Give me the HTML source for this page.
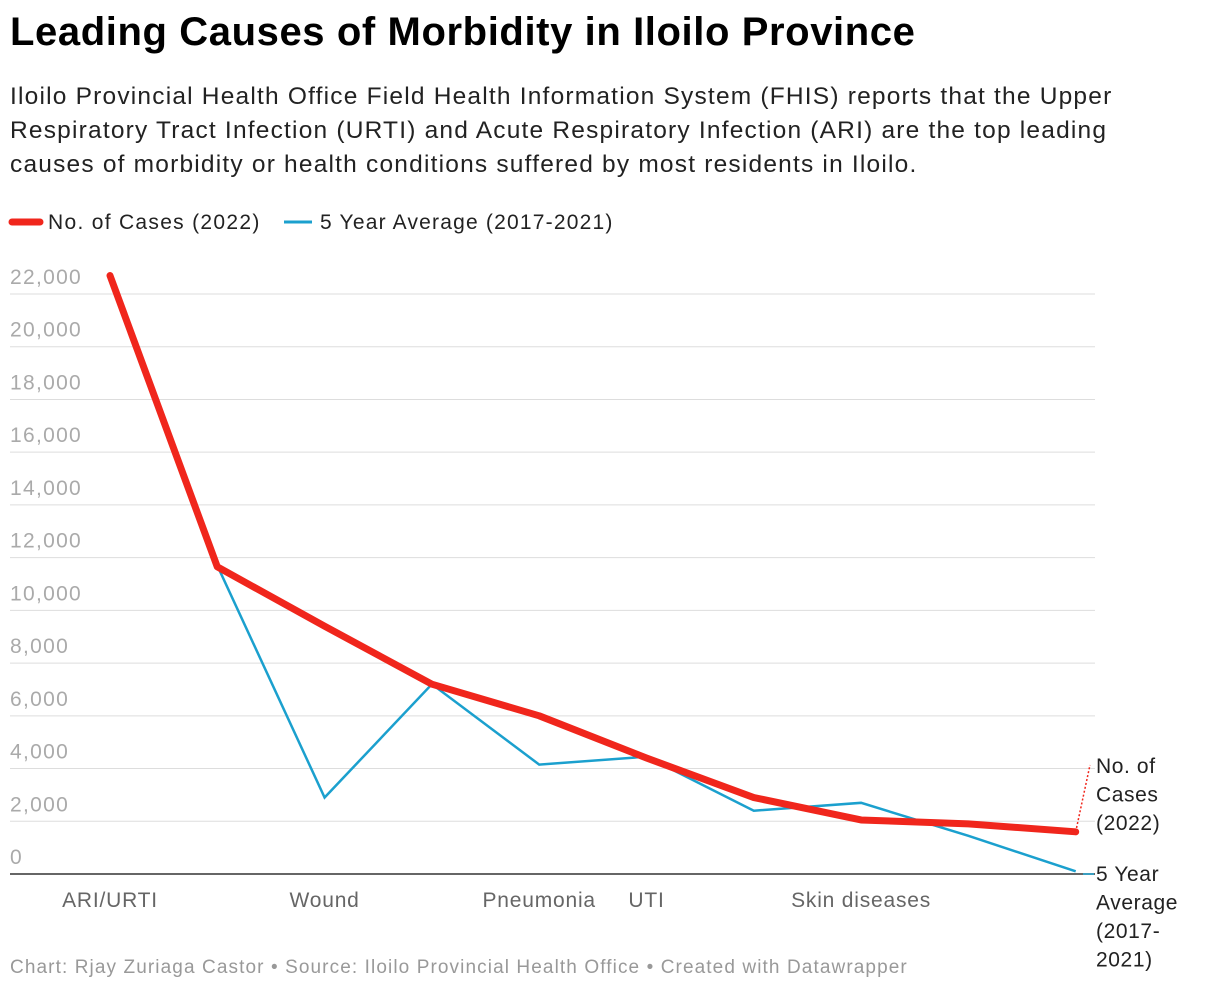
<!DOCTYPE html>
<html><head><meta charset="utf-8"><style>
body{margin:0;background:#fff;font-family:"Liberation Sans",sans-serif;width:1220px;height:990px;overflow:hidden;position:relative}
h1{position:absolute;left:10px;top:10px;margin:0;font-size:40px;font-weight:bold;color:#000;letter-spacing:0.6px}
.sub{position:absolute;left:10px;top:80px;width:1160px;font-size:24.5px;line-height:34px;color:#222;letter-spacing:1.2px}
.foot{position:absolute;left:10px;top:957px;font-size:19px;color:#999;letter-spacing:1.1px}
</style></head><body>
<h1>Leading Causes of Morbidity in Iloilo Province</h1>
<div class="sub">Iloilo Provincial Health Office Field Health Information System (FHIS) reports that the Upper Respiratory Tract Infection (URTI) and Acute Respiratory Infection (ARI) are the top leading causes of morbidity or health conditions suffered by most residents in Iloilo.</div>
<svg id="c" width="1220" height="990" style="position:absolute;left:0;top:0"></svg>
<div class="foot">Chart: Rjay Zuriaga Castor • Source: Iloilo Provincial Health Office • Created with Datawrapper</div>
<script>
const categories=["ARI/URTI","","Wound","","Pneumonia","UTI","","Skin diseases","",""];
const cases2022=[22700,11650,9400,7200,6000,4400,2900,2050,1900,1600];
const avg5yr=[22700,11700,2900,7200,4150,4450,2400,2700,1450,100];
const yTicks=[0,2000,4000,6000,8000,10000,12000,14000,16000,18000,20000,22000];
const NS="http://www.w3.org/2000/svg";
const svg=document.getElementById('c');
const x=i=>110+i*107.3;
const y=v=>874-v*(580/22000);
function mk(t,a,p){const e=document.createElementNS(NS,t);for(const k in a)e.setAttribute(k,a[k]);(p||svg).appendChild(e);return e;}
yTicks.forEach(v=>{
 if(v>0){const l=mk('line',{x1:10,x2:1095,y1:y(v),y2:y(v),stroke:'#ddd','stroke-width':1});
 
 }
 const t=mk('text',{x:10,y:y(v)-10,'font-size':21,fill:'#aaa','font-family':'Liberation Sans','letter-spacing':'1.3'});
 t.textContent=v.toLocaleString('en-US');
 
 
});
const ax=mk('line',{x1:10,x2:1095,y1:874,y2:874,stroke:'#333','stroke-width':1.5});


categories.forEach((c,i)=>{if(!c)return;
 const t=mk('text',{x:x(i),y:907,'font-size':21,fill:'#666','text-anchor':'middle','font-family':'Liberation Sans','letter-spacing':'0.8'});
 t.textContent=c;
 
 });
const pb=mk('polyline',{points:avg5yr.map((v,i)=>x(i)+','+y(v)).join(' '),fill:'none',stroke:'#1ba0ce','stroke-width':2.5});


const pr=mk('polyline',{points:cases2022.map((v,i)=>x(i)+','+y(v)).join(' '),fill:'none',stroke:'#f0261c','stroke-width':7,'stroke-linejoin':'round','stroke-linecap':'round'});


const n=cases2022.length-1;
const d=mk('line',{x1:x(n),y1:y(cases2022[n]),x2:1090,y2:765,stroke:'#f0261c','stroke-width':1.5,'stroke-dasharray':'2,2'});


function lbl(lines,y0,name){lines.forEach((s,k)=>{const t=mk('text',{x:1096,y:y0+k*28.5,'font-size':21,fill:'#222','font-family':'Liberation Sans','letter-spacing':'0.6'});t.textContent=s;
 
 });}
lbl(["No. of","Cases","(2022)"],773,'line-label-2022');
lbl(["5 Year","Average","(2017-","2021)"],881,'line-label-average');
const lg=mk('line',{x1:1083,x2:1094,y1:874,y2:874,stroke:'#1ba0ce','stroke-width':1.5});
const l1=mk('line',{x1:12,x2:40,y1:222,y2:222,stroke:'#f0261c','stroke-width':7,'stroke-linecap':'round'});


const t1=mk('text',{x:48,y:229,'font-size':21,fill:'#222','font-family':'Liberation Sans','letter-spacing':'1.3'});t1.textContent='No. of Cases (2022)';


const l2=mk('line',{x1:284,x2:312,y1:222,y2:222,stroke:'#1ba0ce','stroke-width':3});


const t2=mk('text',{x:320,y:229,'font-size':21,fill:'#222','font-family':'Liberation Sans','letter-spacing':'1.2'});t2.textContent='5 Year Average (2017-2021)';


</script>
</body></html>
